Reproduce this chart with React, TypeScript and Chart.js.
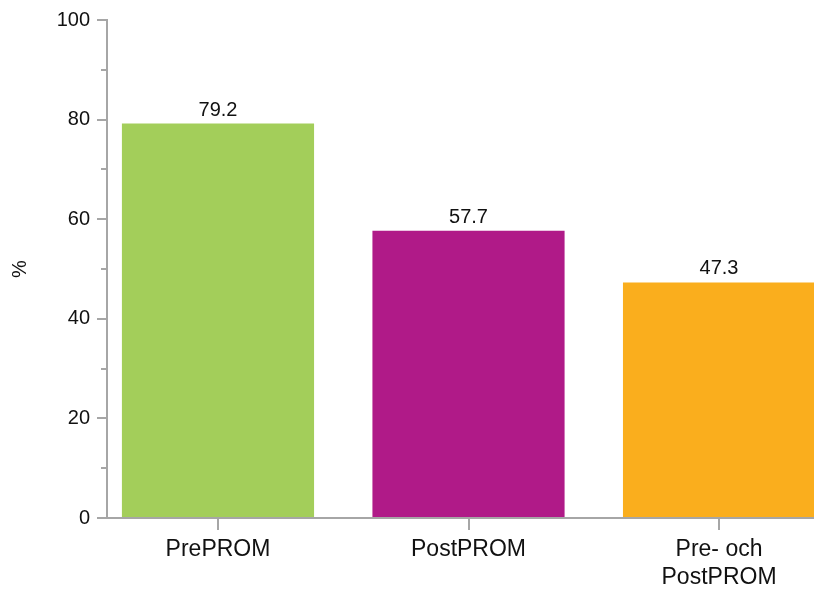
import React, { useEffect, useRef } from "react";
import { Chart, registerables } from "chart.js";

Chart.register(...registerables);

const categories: (string | string[])[] = ["PrePROM", "PostPROM", ["Pre- och", "PostPROM"]];
const values = [79.2, 57.7, 47.3];
const colors = ["#A3CE5A", "#B01A88", "#FAAE1D"];
const majorTicks = [0, 20, 40, 60, 80, 100];
const minorTicks = [10, 30, 50, 70, 90];
const yTitle = "%";
const FONT = "'Liberation Sans', Arial, sans-serif";

export default function App() {
  const ref = useRef<HTMLCanvasElement | null>(null);
  useEffect(() => {
    document.body.style.overflow = "hidden";
    const canvas = ref.current!;
    const valueLabels = {
      id: "valueLabels",
      afterDatasetsDraw(chart: any) {
        const ctx = chart.ctx;
        const meta = chart.getDatasetMeta(0);
        ctx.save();
        ctx.font = `20px ${FONT}`;
        ctx.fillStyle = "#111";
        ctx.textAlign = "center";
        ctx.textBaseline = "alphabetic";
        meta.data.forEach((el: any, i: number) => {
          ctx.fillText(values[i].toFixed(1), el.x, el.y - 8);
        });
        ctx.restore();
      },
    };
    const minorTickPlugin = {
      id: "minorTicks",
      afterDraw(chart: any) {
        const ctx = chart.ctx;
        const y = chart.scales.y;
        const left = chart.chartArea.left;
        ctx.save();
        ctx.strokeStyle = "#A6A6A6";
        ctx.lineWidth = 2;
        minorTicks.forEach((v) => {
          const py = Math.round(y.getPixelForValue(v));
          ctx.beginPath();
          ctx.moveTo(left - 6, py);
          ctx.lineTo(left, py);
          ctx.stroke();
        });
        ctx.restore();
      },
    };
    const chart = new Chart(canvas, {
      type: "bar",
      data: {
        datasets: [
          {
            data: values.map((v, i) => ({ x: i, y: v })),
            backgroundColor: colors,
            borderWidth: 0,
            barPercentage: 1,
            categoryPercentage: 0.767,
          },
        ],
      },
      options: {
        animation: false,
        responsive: false,
        maintainAspectRatio: false,
        layout: { padding: { top: 12, right: 0, left: 0, bottom: 0 } },
        plugins: { legend: { display: false }, tooltip: { enabled: false } },
        scales: {
          x: {
            type: "linear",
            offset: false,
            min: -0.443,
            max: 2.411,
            afterBuildTicks: (scale: any) => {
              scale.ticks = categories.map((_, i) => ({ value: i }));
            },
            afterFit: (scale: any) => {
              scale.height = 74;
              scale.paddingLeft = 0;
              scale.paddingRight = 0;
            },
            border: { display: true, color: "#A6A6A6", width: 2 },
            grid: { offset: false, drawOnChartArea: false, tickLength: 12, color: "#A6A6A6", lineWidth: 2 },
            ticks: {
              autoSkip: false,
              maxRotation: 0,
              padding: 5,
              color: "#111",
              font: { family: FONT, size: 23, lineHeight: 1.25 },
              callback: (v: any) => categories[v as number] as any,
            },
          },
          y: {
            min: 0,
            max: 100,
            afterBuildTicks: (scale: any) => {
              scale.ticks = majorTicks.map((v) => ({ value: v }));
            },
            afterFit: (scale: any) => {
              scale.width = 99;
              scale.paddingTop = 0;
              scale.paddingBottom = 0;
            },
            border: { display: true, color: "#A6A6A6", width: 2 },
            grid: { drawOnChartArea: false, tickLength: 10, color: "#A6A6A6", lineWidth: 2 },
            ticks: {
              padding: 7,
              color: "#111",
              font: { family: FONT, size: 20 },
            },
            title: {
              display: true,
              text: yTitle,
              color: "#111",
              font: { family: FONT, size: 20 },
              padding: 0,
            },
          },
        },
      },
      plugins: [valueLabels, minorTickPlugin],
    } as any);
    return () => chart.destroy();
  }, []);
  return <canvas ref={ref} width={814} height={584} style={{ display: "block" }} />;
}
